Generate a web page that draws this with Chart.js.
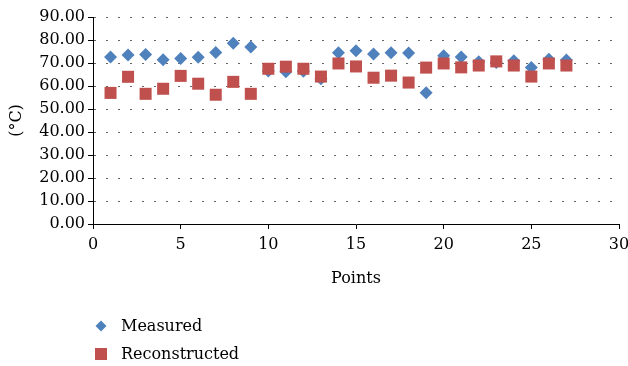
<!DOCTYPE html>
<html>
<head>
<meta charset="utf-8">
<script src="https://cdn.jsdelivr.net/npm/chart.js@4.4.1/dist/chart.umd.min.js"></script>
<style>
    html, body { margin: 0; padding: 0; background: #fff; }
    #wrap { position: relative; width: 628px; height: 366px; }
    #chart { position: absolute; left: 0; top: 0; }
    .legend { position: absolute; left: 93px; top: 0; font: 16px "DejaVu Serif", serif; color: #000; }
    .legend .item { position: absolute; left: 0; white-space: nowrap; height: 20px; line-height: 20px; }
    .legend .mark { position: absolute; left: 2px; top: 4px; width: 12px; height: 12px; }
    .legend .txt { position: absolute; left: 28px; top: 0; }
</style>
</head>
<body>
<div id="wrap">
    <canvas id="chart" width="628" height="366"></canvas>
    <div class="legend">
        <div class="item" style="top:316px"><canvas class="mark" id="mk1" width="12" height="12"></canvas><span class="txt">Measured</span></div>
        <div class="item" style="top:344px"><canvas class="mark" id="mk2" width="12" height="12"></canvas><span class="txt">Reconstructed</span></div>
    </div>
</div>
<script>
const points = [1, 2, 3, 4, 5, 6, 7, 8, 9, 10, 11, 12, 13, 14, 15, 16, 17, 18, 19, 20, 21, 22, 23, 24, 25, 26, 27];
const measured = [72.6, 73.5, 73.7, 71.4, 72.0, 72.5, 74.6, 78.6, 77.0, 66.5, 66.2, 66.4, 63.2, 74.5, 75.3, 73.9, 74.5, 74.4, 57.1, 73.2, 72.6, 70.5, 70.2, 71.0, 68.0, 71.6, 71.3];
const reconstructed = [57.0, 64.0, 56.6, 58.8, 64.4, 61.0, 56.2, 61.8, 56.6, 67.5, 68.4, 67.5, 64.1, 69.8, 68.5, 63.6, 64.5, 61.5, 68.0, 69.8, 68.1, 68.9, 70.7, 68.9, 64.1, 69.8, 68.9];
const seriesNames = ['Measured', 'Reconstructed'];

const blue = '#4F81BD';
const red = '#C0504D';
const font = { family: '"DejaVu Serif", serif', size: 16 };

function toXY(ys) {
    return points.map((p, i) => ({ x: p, y: ys[i] }));
}

// legend markers
(function () {
    const c1 = document.getElementById('mk1').getContext('2d');
    c1.fillStyle = blue;
    c1.beginPath();
    c1.moveTo(6, 0.5); c1.lineTo(11.5, 6); c1.lineTo(6, 11.5); c1.lineTo(0.5, 6);
    c1.closePath();
    c1.fill();
    const c2 = document.getElementById('mk2').getContext('2d');
    c2.fillStyle = red;
    c2.fillRect(0, 0, 12, 12);
})();

const ctx = document.getElementById('chart').getContext('2d');

new Chart(ctx, {
    type: 'scatter',
    data: {
        datasets: [{
            label: seriesNames[0],
            data: toXY(measured),
            pointStyle: 'rectRot',
            pointRadius: 6.5,
            backgroundColor: blue,
            borderColor: blue,
            borderWidth: 0,
            order: 1
        }, {
            label: seriesNames[1],
            data: toXY(reconstructed),
            pointStyle: 'rect',
            pointRadius: 8.5,
            backgroundColor: red,
            borderColor: red,
            borderWidth: 0,
            order: 0
        }]
    },
    options: {
        responsive: false,
        animation: false,
        devicePixelRatio: 1,
        layout: {
            padding: { top: 17, right: 0, left: 0, bottom: 78 }
        },
        scales: {
            x: {
                type: 'linear',
                min: 0,
                max: 30,
                afterFit: scale => {
                    scale.height = 64;
                    scale.paddingRight = 9;
                },
                ticks: {
                    stepSize: 5,
                    color: '#000',
                    font: font,
                    padding: 6,
                    maxRotation: 0
                },
                grid: {
                    drawOnChartArea: false,
                    drawTicks: true,
                    tickLength: 5,
                    tickColor: '#000'
                },
                border: { color: '#000', width: 1 },
                title: {
                    display: true,
                    text: 'Points',
                    color: '#000',
                    font: font,
                    padding: { top: 0, bottom: 0 }
                }
            },
            y: {
                min: 0,
                max: 90,
                afterFit: scale => { scale.width = 93; },
                ticks: {
                    stepSize: 10,
                    color: '#000',
                    font: font,
                    padding: 3,
                    callback: v => v.toFixed(2)
                },
                grid: {
                    color: '#666',
                    lineWidth: 1,
                    tickLength: 5,
                    tickColor: '#000',
                    tickBorderDash: []
                },
                border: { color: '#000', width: 1, dash: [2, 10] },
                title: {
                    display: true,
                    text: '(°C)',
                    color: '#000',
                    font: font,
                    padding: { top: 7, bottom: 0 }
                }
            }
        },
        plugins: {
            legend: { display: false },
            tooltip: { enabled: false }
        }
    }
});
</script>
</body>
</html>
